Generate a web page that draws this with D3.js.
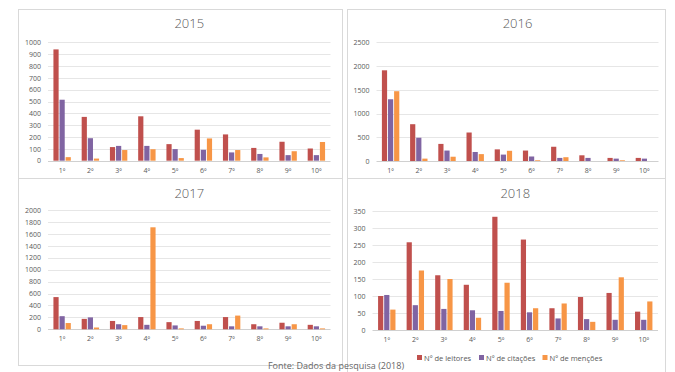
<!DOCTYPE html>
<html><head><meta charset="utf-8">
<script src="https://cdn.jsdelivr.net/npm/d3@7"></script>
<style>
html,body{margin:0;padding:0;background:#fff;overflow:hidden;}
svg{display:block;font-family:"Open Sans","Liberation Sans",sans-serif;}
</style></head>
<body>
<svg id="chart" width="675" height="372"></svg>
<script>
const categories = ["1º","2º","3º","4º","5º","6º","7º","8º","9º","10º"];
const seriesNames = ["Nº de leitores","Nº de citações","Nº de menções"];
const colors = ["#C0504D","#8064A2","#F79646"];

const leitores2015 = [940,370,115,375,140,262,222,108,160,103];
const citacoes2015 = [515,190,125,125,98,92,70,57,47,47];
const mencoes2015  = [30,18,90,97,22,188,90,28,80,158];

const leitores2016 = [1910,775,360,600,245,220,300,120,65,65];
const citacoes2016 = [1300,490,220,190,135,95,65,65,50,50];
const mencoes2016  = [1470,50,90,145,215,15,80,0,15,0];

const leitores2017 = [540,175,140,205,120,140,205,85,110,75];
const citacoes2017 = [220,200,85,75,65,60,50,50,50,50];
const mencoes2017  = [105,30,70,1710,15,85,230,15,85,15];

const leitores2018 = [100,258,161,133,333,266,64,97,109,54];
const citacoes2018 = [103,73,62,58,56,52,34,32,30,30];
const mencoes2018  = [60,175,150,36,139,64,78,24,155,84];

const ticks2015 = [0,100,200,300,400,500,600,700,800,900,1000];
const ticks2016 = [0,500,1000,1500,2000,2500];
const ticks2017 = [0,200,400,600,800,1000,1200,1400,1600,1800,2000];
const ticks2018 = [0,50,100,150,200,250,300,350];

const svg = d3.select("#chart");

const panels = [
  {title:"2015", data:[leitores2015,citacoes2015,mencoes2015], ticks:ticks2015,
   box:[18,9,342,178], plot:{x0:48,x1:330.5,y0:160.7,y1:42.3}, titleY:28, legend:false},
  {title:"2016", data:[leitores2016,citacoes2016,mencoes2016], ticks:ticks2016,
   box:[347,9,665,178], plot:{x0:376.5,x1:658.5,y0:161,y1:42.3}, titleY:28, legend:false},
  {title:"2017", data:[leitores2017,citacoes2017,mencoes2017], ticks:ticks2017,
   box:[18,178,342,365], plot:{x0:48,x1:330.5,y0:329.3,y1:210}, titleY:197.5, legend:false},
  {title:"2018", data:[leitores2018,citacoes2018,mencoes2018], ticks:ticks2018,
   box:[347,178,665,372], plot:{x0:372.5,x1:658,y0:330,y1:211}, titleY:197.5, legend:true}
];

panels.forEach(p => {
  const g = svg.append("g");
  const [bx0,by0,bx1,by1] = p.box;
  g.append("rect").attr("x",bx0+0.5).attr("y",by0+0.5)
    .attr("width",bx1-bx0).attr("height",by1-by0)
    .attr("fill","none").attr("stroke","#D9D9D9").attr("stroke-width",1);

  const x = d3.scaleBand().domain(categories).range([p.plot.x0,p.plot.x1]);
  const y = d3.scaleLinear().domain([0,d3.max(p.ticks)]).range([p.plot.y0,p.plot.y1]);
  const bw = 5.2, gap = 0.9;
  const offs = [-(bw+gap)-bw/2, -bw/2, bw/2+gap];

  g.selectAll("line.grid").data(p.ticks).enter().append("line")
    .attr("x1",p.plot.x0).attr("x2",p.plot.x1)
    .attr("y1",d=>Math.round(y(d))+0.5).attr("y2",d=>Math.round(y(d))+0.5)
    .attr("stroke",d=>d===0?"#D0D0D0":"#E6E6E6").attr("stroke-width",1);

  const ax = d3.axisLeft(y).tickValues(p.ticks).tickFormat(d3.format("d")).tickSize(0).tickPadding(0);
  const axg = g.append("g").attr("transform",`translate(${p.plot.x0-7},0)`).call(ax);
  axg.select(".domain").remove();
  axg.selectAll("text").attr("fill","#595959").style("font-size","7px")
    .style("font-family","'Open Sans','Liberation Sans',sans-serif");

  const xa = d3.axisBottom(x).tickSize(0).tickPadding(0);
  const xg = g.append("g").attr("transform",`translate(0,${p.plot.y0+7})`).call(xa);
  xg.select(".domain").remove();
  xg.selectAll("text").attr("fill","#595959").style("font-size","7px")
    .style("font-family","'Open Sans','Liberation Sans',sans-serif");

  p.data.forEach((vals,si) => {
    g.selectAll(null).data(vals).enter().append("rect")
      .attr("x",(d,i)=>x(categories[i])+x.bandwidth()/2+offs[si])
      .attr("width",bw)
      .attr("y",d=>y(d))
      .attr("height",d=>Math.max(0,y(0)-y(d)))
      .attr("fill",colors[si]);
  });

  g.append("text").attr("x",(p.plot.x0+p.plot.x1)/2).attr("y",p.titleY)
    .attr("text-anchor","middle").attr("fill","#595959")
    .style("font-size","13px").style("font-weight","300").text(p.title);

  if (p.legend) {
    const lx = [420,482,545.5];
    const lg = g.append("g");
    seriesNames.forEach((n,i)=>{
      lg.append("rect").attr("x",lx[i]-3).attr("y",355).attr("width",5).attr("height",5).attr("fill",colors[i]);
      lg.append("text").attr("x",lx[i]+4).attr("y",360.5).attr("fill","#595959")
        .style("font-size","7.5px").text(n);
    });
  }
});

svg.append("text").attr("x",336).attr("y",369).attr("text-anchor","middle")
  .attr("fill","#666").style("font-size","9px").text("Fonte: Dados da pesquisa (2018)");
</script>
</body></html>
